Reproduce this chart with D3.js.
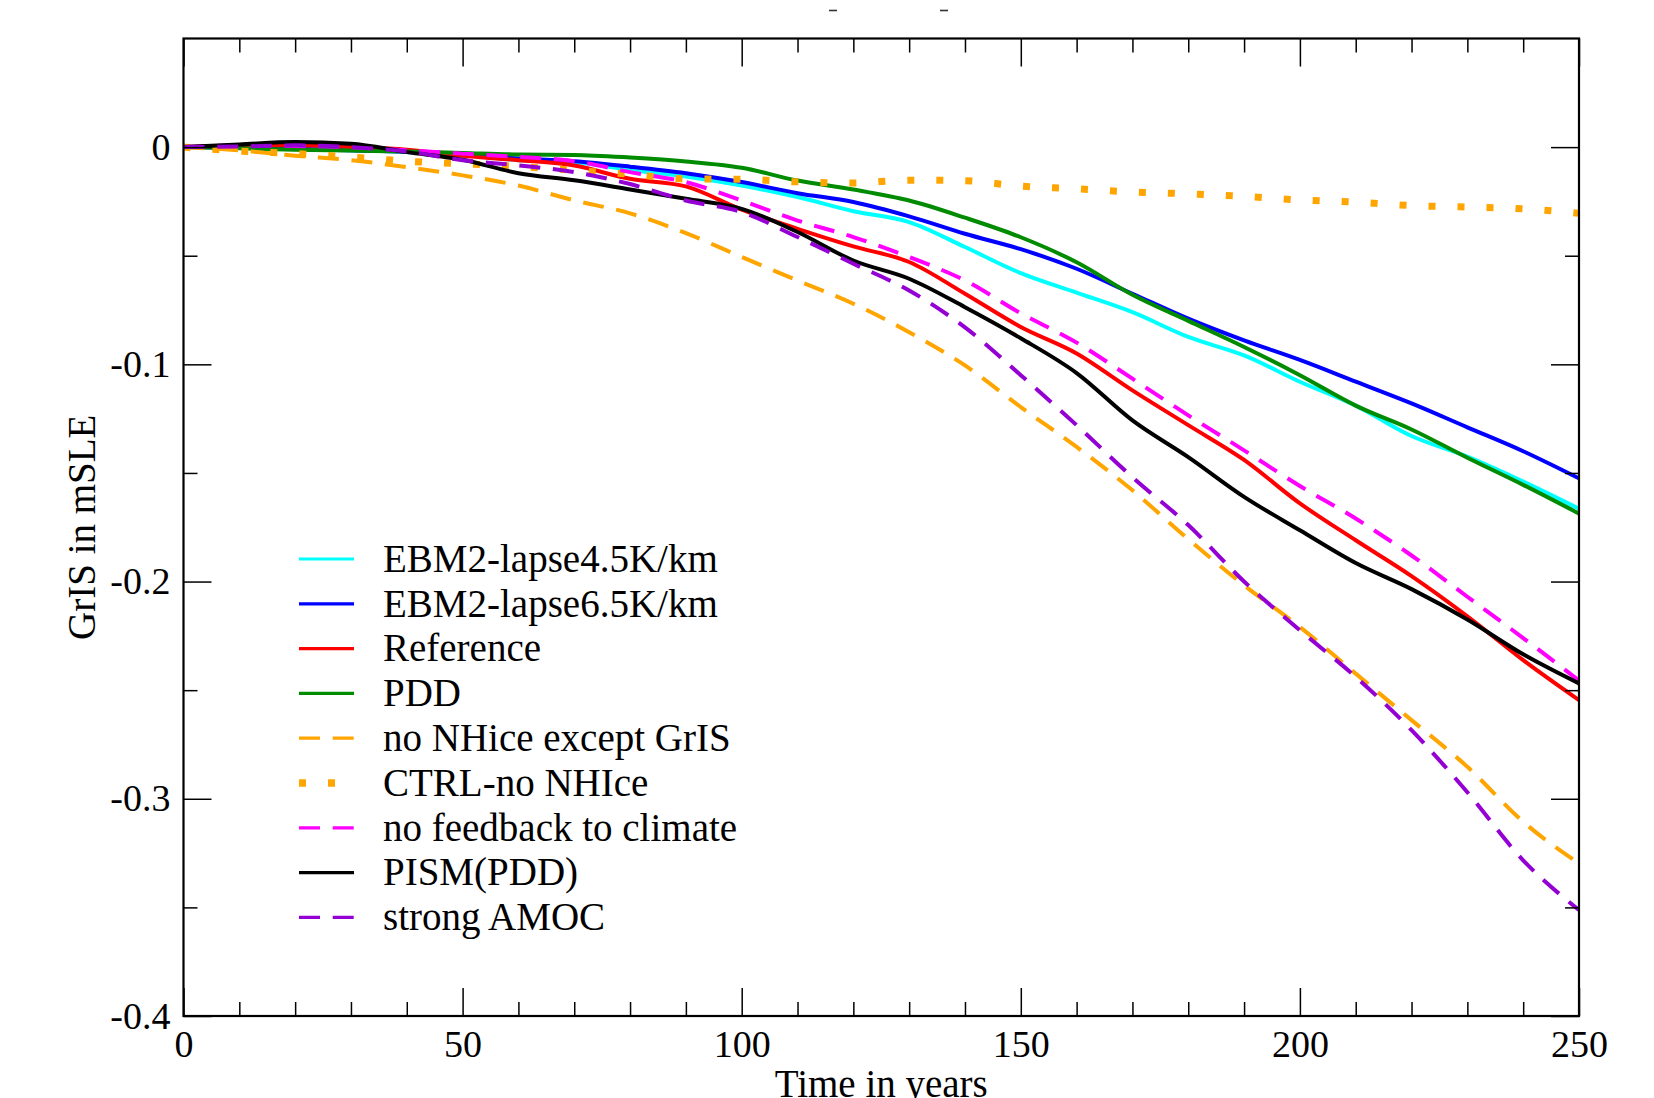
<!DOCTYPE html>
<html>
<head>
<meta charset="utf-8">
<title>GrIS in mSLE</title>
<script src="https://cdn.jsdelivr.net/npm/d3@7"></script>
<style>
body { margin: 0; background: #fff; }
svg { display: block; font-family: "Liberation Serif", "Times New Roman", serif; }
</style>
</head>
<body>
<script>
// values, one point every 10 years
const years = [0,10,20,30,40,50,60,70,80,90,100,110,120,130,140,150,160,170,180,190,200,210,220,230,240,250];

const ebmLapse45 = [0,-0.0003,-0.0008,-0.0015,-0.0022,-0.0035,-0.006,-0.007,-0.0105,-0.0135,-0.0177,-0.023,-0.0295,-0.0345,-0.046,-0.058,-0.067,-0.076,-0.0874,-0.0959,-0.108,-0.119,-0.133,-0.1425,-0.154,-0.1665];
const ebmLapse65 = [0,-0.0003,-0.0008,-0.0015,-0.0022,-0.0035,-0.0052,-0.0065,-0.009,-0.012,-0.0161,-0.0212,-0.0253,-0.0319,-0.0399,-0.047,-0.056,-0.0675,-0.079,-0.089,-0.098,-0.108,-0.118,-0.129,-0.140,-0.1525];
const reference  = [0,0.0005,0.0008,0,-0.0012,-0.004,-0.006,-0.0085,-0.0146,-0.0181,-0.0288,-0.0376,-0.0457,-0.0529,-0.0675,-0.0828,-0.095,-0.112,-0.128,-0.144,-0.164,-0.181,-0.1975,-0.216,-0.2362,-0.2546];
const pdd        = [0,-0.0005,-0.0012,-0.0016,-0.002,-0.0027,-0.0034,-0.0036,-0.0048,-0.0066,-0.0095,-0.0154,-0.0195,-0.0246,-0.0325,-0.0415,-0.053,-0.068,-0.080,-0.092,-0.105,-0.119,-0.130,-0.143,-0.1555,-0.1687];
const noNHiceExceptGrIS = [0,-0.0015,-0.004,-0.006,-0.0092,-0.013,-0.0177,-0.0245,-0.0305,-0.0396,-0.0506,-0.0614,-0.0721,-0.0852,-0.1005,-0.1197,-0.138,-0.158,-0.1805,-0.2017,-0.2209,-0.2424,-0.2638,-0.2853,-0.3106,-0.3298];
const ctrlNoNHice = [0,-0.0018,-0.003,-0.0046,-0.0065,-0.0077,-0.0089,-0.0107,-0.0125,-0.0146,-0.0148,-0.016,-0.0165,-0.0152,-0.0155,-0.018,-0.0192,-0.0207,-0.0215,-0.0227,-0.0243,-0.0253,-0.0269,-0.0276,-0.0284,-0.0304];
const noFeedback = [0,0.0008,0.0005,0,-0.0015,-0.003,-0.0045,-0.0065,-0.0115,-0.0161,-0.0246,-0.0338,-0.0414,-0.0506,-0.0614,-0.0765,-0.090,-0.1066,-0.1235,-0.1396,-0.156,-0.171,-0.188,-0.207,-0.226,-0.2456];
const pismPdd    = [0,0.0012,0.0023,0.0015,-0.0023,-0.0058,-0.012,-0.0153,-0.0195,-0.0238,-0.0284,-0.0391,-0.0522,-0.0606,-0.0737,-0.088,-0.104,-0.1258,-0.1427,-0.161,-0.1764,-0.1915,-0.2035,-0.2175,-0.2335,-0.2469];
const strongAmoc = [0,0.0003,0.0008,0,-0.002,-0.006,-0.0084,-0.0115,-0.017,-0.0246,-0.0299,-0.0414,-0.0537,-0.066,-0.083,-0.105,-0.128,-0.152,-0.174,-0.200,-0.2224,-0.2439,-0.2684,-0.297,-0.3283,-0.3512];

const seriesNames = ["EBM2-lapse4.5K/km","EBM2-lapse6.5K/km","Reference","PDD","no NHice except GrIS","CTRL-no NHIce","no feedback to climate","PISM(PDD)","strong AMOC"];
const seriesValues = [ebmLapse45, ebmLapse65, reference, pdd, noNHiceExceptGrIS, ctrlNoNHice, noFeedback, pismPdd, strongAmoc];

const xMajorTicks = [0,50,100,150,200,250];
const yMajorTicks = [0,-0.1,-0.2,-0.3,-0.4];
const yTickLabels = ["0","-0.1","-0.2","-0.3","-0.4"];
const xTitle = "Time in years";
const yTitle = "GrIS in mSLE";

// styles
const colors = ["#00ffff","#0000ff","#ff0000","#008b00","#ffa500","#ffa500","#ff00ff","#000000","#9400d3"];
const dashes = [null,null,null,null,"21,12.7","7,22","21,12.7",null,"21,12.7"];
const widths = [4,4,4,4,4,7,4,4,4];

const W = 1654, H = 1098;
const pLeft = 183.5, pRight = 1579, pTop = 38.5, pBottom = 1016;

const svg = d3.select("body").append("svg")
    .attr("width", W).attr("height", H);

const x = d3.scaleLinear().domain([0, 250]).range([pLeft, pRight]);
const y = d3.scaleLinear().domain([-0.4, 0.05]).range([pBottom, pTop]);

// clip so lines stay inside frame
svg.append("clipPath").attr("id", "plotclip")
  .append("rect").attr("x", pLeft).attr("y", pTop)
  .attr("width", pRight - pLeft).attr("height", pBottom - pTop);

const line = d3.line()
    .x((d, i) => x(years[i]))
    .y(d => y(d))
    .curve(d3.curveMonotoneX);

svg.append("g").attr("clip-path", "url(#plotclip)")
  .selectAll("path")
  .data(seriesValues)
  .join("path")
    .attr("d", d => line(d))
    .attr("fill", "none")
    .attr("stroke", (d, i) => colors[i])
    .attr("stroke-width", (d, i) => widths[i])
    .attr("stroke-dasharray", (d, i) => dashes[i])
    .attr("stroke-linejoin", "round");

// axes, ticks pointing inward on all four sides
const xMinor = d3.range(0, 251, 10).filter(v => v % 50 !== 0);
const yMinor = [-0.05, -0.15, -0.25, -0.35];

function styleAxis(g) {
  g.select(".domain").remove();
  g.selectAll(".tick line").attr("stroke", "#000").attr("stroke-width", 1.5);
  g.selectAll("text").attr("fill", "#000").attr("font-family", "Liberation Serif, Times New Roman, serif");
}

svg.append("g").attr("transform", `translate(0,${pBottom})`)
  .call(d3.axisBottom(x).tickValues(xMajorTicks).tickSize(-28).tickPadding(14).tickFormat(d3.format("d")))
  .call(styleAxis)
  .call(g => g.selectAll("text").attr("font-size", 38).attr("dy", "0.71em").attr("y", 14));
svg.append("g").attr("transform", `translate(0,${pBottom})`)
  .call(d3.axisBottom(x).tickValues(xMinor).tickSize(-14).tickFormat(""))
  .call(styleAxis);
svg.append("g").attr("transform", `translate(0,${pTop})`)
  .call(d3.axisTop(x).tickValues(xMajorTicks).tickSize(-28).tickFormat(""))
  .call(styleAxis);
svg.append("g").attr("transform", `translate(0,${pTop})`)
  .call(d3.axisTop(x).tickValues(xMinor).tickSize(-14).tickFormat(""))
  .call(styleAxis);

svg.append("g").attr("transform", `translate(${pLeft},0)`)
  .call(d3.axisLeft(y).tickValues(yMajorTicks).tickSize(-28).tickPadding(13)
        .tickFormat((d, i) => yTickLabels[i]))
  .call(styleAxis)
  .call(g => g.selectAll("text").attr("font-size", 38).attr("x", -13));
svg.append("g").attr("transform", `translate(${pLeft},0)`)
  .call(d3.axisLeft(y).tickValues(yMinor).tickSize(-14).tickFormat(""))
  .call(styleAxis);
svg.append("g").attr("transform", `translate(${pRight},0)`)
  .call(d3.axisRight(y).tickValues(yMajorTicks).tickSize(-28).tickFormat(""))
  .call(styleAxis);
svg.append("g").attr("transform", `translate(${pRight},0)`)
  .call(d3.axisRight(y).tickValues(yMinor).tickSize(-14).tickFormat(""))
  .call(styleAxis);

// frame
svg.append("rect")
  .attr("x", pLeft).attr("y", pTop)
  .attr("width", pRight - pLeft).attr("height", pBottom - pTop)
  .attr("fill", "none").attr("stroke", "#000").attr("stroke-width", 2.2);

// axis titles (the x title sits at the bottom edge, as in the original)
svg.append("text")
  .attr("x", (pLeft + pRight) / 2).attr("y", 1097)
  .attr("text-anchor", "middle").attr("font-size", 39)
  .text(xTitle);
svg.append("text")
  .attr("transform", `translate(95,${(pTop + pBottom) / 2}) rotate(-90)`)
  .attr("text-anchor", "middle").attr("font-size", 39)
  .text(yTitle);

// what is left of the cut-off title
[833, 944].forEach(cx => {
  svg.append("line").attr("x1", cx - 4).attr("x2", cx + 4)
    .attr("y1", 10.5).attr("y2", 10.5)
    .attr("stroke", "#333").attr("stroke-width", 1.6);
});

// legend
const legend = svg.append("g").attr("transform", "translate(299,559)");
const rowH = 44.8;
const rows = legend.selectAll("g")
  .data(seriesNames)
  .join("g")
    .attr("transform", (d, i) => `translate(0,${i * rowH})`);
rows.append("line")
  .attr("x1", 0).attr("x2", 55).attr("y1", 0).attr("y2", 0)
  .attr("stroke", (d, i) => colors[i])
  .attr("stroke-width", (d, i) => widths[i] === 7 ? 7.3 : 3.2)
  .attr("stroke-dasharray", (d, i) => dashes[i]);
rows.append("text")
  .attr("x", 84).attr("y", 0).attr("dy", "0.33em")
  .attr("font-size", 39)
  .text(d => d);
</script>
</body>
</html>
